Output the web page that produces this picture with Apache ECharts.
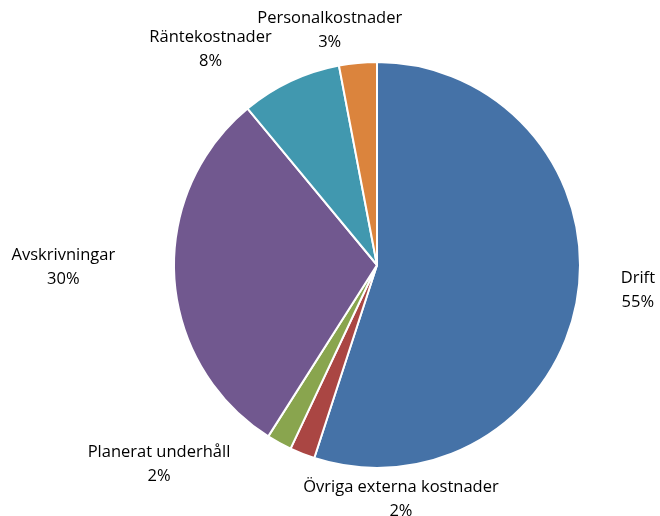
<!DOCTYPE html>
<html>
<head>
<meta charset="utf-8">
<script src="https://cdn.jsdelivr.net/npm/echarts@6/dist/echarts.min.js"></script>
<style>html,body{margin:0;padding:0;background:#fff}#c{width:660px;height:516px}</style>
</head>
<body>
<div id="c"></div>
<script>
var categories = ['Drift', 'Övriga externa kostnader', 'Planerat underhåll', 'Avskrivningar', 'Räntekostnader', 'Personalkostnader'];
var values = [55, 2, 2, 30, 8, 3];
var colors = ['#4572A7', '#AA4643', '#89A54E', '#71588F', '#4198AF', '#DB843D'];
// label centre positions relative to pie centre, in units of the pie radius
var labelOffsets = [[1.285, 0.125], [0.118, 1.153], [-1.074, 0.980], [-1.545, 0.010], [-0.820, -1.064], [-0.233, -1.158]];

var CX = 377, CY = 265, R = 203;
var chart = echarts.init(document.getElementById('c'), null, {renderer: 'canvas'});
var data = categories.map(function (n, i) {
  return {name: n, value: values[i], itemStyle: {color: colors[i]}};
});
chart.setOption({
  animation: false,
  backgroundColor: '#fff',
  series: [{
    type: 'pie',
    center: [CX, CY],
    radius: [0, R],
    startAngle: 90,
    clockwise: true,
    data: data,
    itemStyle: {borderColor: '#fff', borderWidth: 2},
    label: {
      show: true,
      position: 'outside',
      formatter: function (p) { return p.name + '\n' + Math.round(p.percent) + '%'; },
      fontFamily: 'Open Sans',
      fontSize: 16.5,
      lineHeight: 24,
      color: '#000',
      align: 'center',
      overflow: 'none',
      bleedMargin: 0
    },
    labelLine: {show: false},
    labelLayout: function (p) {
      var o = labelOffsets[p.dataIndex];
      return {x: CX + o[0] * R, y: CY + o[1] * R, align: 'center', verticalAlign: 'middle', hideOverlap: false};
    }
  }]
});
</script>
</body>
</html>
